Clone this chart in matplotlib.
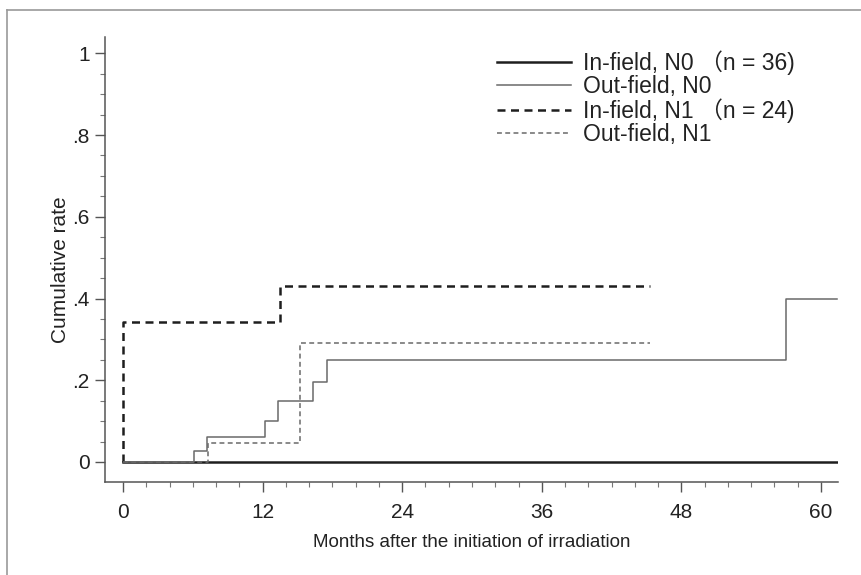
"""Cumulative in-field / out-field failure rates by nodal stage"""

import matplotlib
matplotlib.use("Agg")
import matplotlib.pyplot as plt
from matplotlib.lines import Line2D
from matplotlib.ticker import MultipleLocator, FixedLocator, FixedFormatter

plt.rcParams["font.family"] = ["Liberation Sans", "Noto Sans CJK JP", "DejaVu Sans"]

# step curves: event times (months) and cumulative rate after each step
infield_n0_t = [0, 61.4]
infield_n0_y = [0, 0]

outfield_n0_t = [0, 6.1, 7.2, 12.2, 13.3, 16.3, 17.5, 57.0, 61.4]
outfield_n0_y = [0, 0.028, 0.06, 0.10, 0.15, 0.195, 0.25, 0.40, 0.40]

infield_n1_t = [0, 0, 13.5, 45.3]
infield_n1_y = [0, 0.342, 0.43, 0.43]

outfield_n1_t = [0, 7.3, 15.2, 45.3]
outfield_n1_y = [0, 0.046, 0.29, 0.29]

labels = [
    "In-field, N0 （n = 36)",
    "Out-field, N0",
    "In-field, N1 （n = 24)",
    "Out-field, N1",
]

x_ticks = [0, 12, 24, 36, 48, 60]
y_ticks = [0, 0.2, 0.4, 0.6, 0.8, 1.0]
y_tick_labels = ["0", ".2", ".4", ".6", ".8", "1"]

fig = plt.figure(figsize=(8.62, 5.75), dpi=100)
ax = fig.add_axes([0.1218, 0.1617, 0.972 - 0.1218, 0.9357 - 0.1617])

dark = "#1e1e1e"
grey = "#6a6a6a"
dash = (0, (3.2, 2.2))

ax.step(infield_n0_t, infield_n0_y, where="post", color=dark, lw=1.8,
        label=labels[0])
ax.step(outfield_n0_t, outfield_n0_y, where="post", color=grey, lw=1.1,
        label=labels[1])
ax.step(infield_n1_t, infield_n1_y, where="post", color=dark, lw=1.8,
        linestyle=dash, label=labels[2])
ax.step(outfield_n1_t, outfield_n1_y, where="post", color=grey, lw=1.1,
        linestyle=dash, label=labels[3])

ax.set_xlim(-1.55, 61.45)
ax.set_ylim(-0.049, 1.04)

for side in ("top", "right"):
    ax.spines[side].set_visible(False)
for side in ("left", "bottom"):
    ax.spines[side].set_color("#555555")
    ax.spines[side].set_linewidth(1.1)

ax.xaxis.set_major_locator(FixedLocator(x_ticks))
ax.xaxis.set_minor_locator(MultipleLocator(2))
ax.yaxis.set_major_locator(FixedLocator(y_ticks))
ax.yaxis.set_major_formatter(FixedFormatter(y_tick_labels))
ax.yaxis.set_minor_locator(MultipleLocator(0.05))

ax.tick_params(axis="both", which="major", length=7, width=1, color="#555555",
               labelsize=15, labelcolor="#222222")
ax.tick_params(axis="x", which="major", pad=8)
ax.tick_params(axis="y", which="major", pad=4)
ax.tick_params(axis="both", which="minor", length=3.5, width=0.8, color="#777777")

ax.set_xlabel("Months after the initiation of irradiation", fontsize=13.5,
              color="#222222", labelpad=9)
ax.set_ylabel("Cumulative rate", fontsize=15, color="#222222")
ax.yaxis.set_label_coords(-0.048, 0.476)

ax.legend(loc="upper left", bbox_to_anchor=(0.577, 0.912),
          bbox_transform=fig.transFigure, frameon=False, fontsize=16.5,
          handlelength=3.2, handletextpad=0.55, labelspacing=0.0,
          borderaxespad=0, borderpad=0)
for text in ax.get_legend().get_texts():
    text.set_color("#222222")

# scanned page frame (top and left edges)
fig.add_artist(Line2D([7 / 862, 1.0], [1 - 10 / 575, 1 - 10 / 575],
                      transform=fig.transFigure, color="#9a9a9a", lw=1.2))
fig.add_artist(Line2D([7 / 862, 7 / 862], [0, 1 - 10 / 575],
                      transform=fig.transFigure, color="#9a9a9a", lw=1.2))

fig.savefig("out.png", dpi=100)
